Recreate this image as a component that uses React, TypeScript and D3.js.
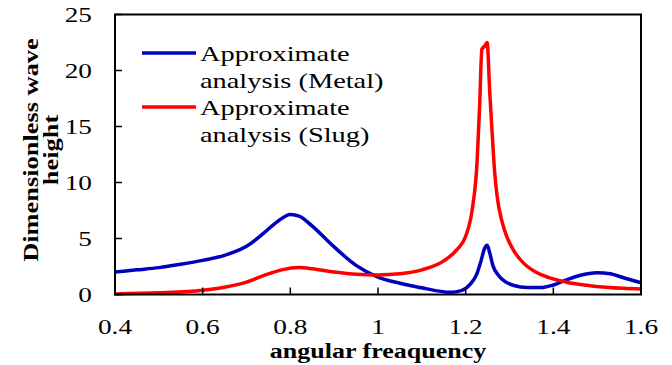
import * as d3 from "d3";

// angular frequency vs dimensionless wave height
const metalFreq = [0.4, 0.45, 0.5, 0.55, 0.6, 0.65, 0.7, 0.74, 0.77, 0.8, 0.82, 0.85, 0.88, 0.9, 0.95, 1.0, 1.05, 1.1, 1.14, 1.165, 1.19, 1.21, 1.225, 1.235, 1.243, 1.249, 1.255, 1.262, 1.275, 1.29, 1.31, 1.34, 1.37, 1.4, 1.43, 1.46, 1.5, 1.53, 1.56, 1.6];
const metalHeight = [2.0, 2.2, 2.4, 2.7, 3.05, 3.5, 4.3, 5.5, 6.5, 7.15, 7.0, 6.1, 5.0, 4.25, 2.6, 1.55, 1.0, 0.6, 0.3, 0.2, 0.35, 0.9, 1.8, 3.0, 4.1, 4.4, 3.7, 2.6, 1.7, 1.15, 0.8, 0.62, 0.62, 0.85, 1.3, 1.7, 1.95, 1.85, 1.5, 1.05];

const slugFreq = [0.4, 0.5, 0.6, 0.65, 0.7, 0.74, 0.78, 0.82, 0.85, 0.9, 0.95, 1.0, 1.05, 1.1, 1.15, 1.18, 1.2, 1.215, 1.226, 1.232, 1.237, 1.244, 1.249, 1.255, 1.26, 1.266, 1.272, 1.283, 1.294, 1.31, 1.332, 1.36, 1.39, 1.43, 1.47, 1.52, 1.56, 1.6];
const slugHeight = [0.05, 0.15, 0.38, 0.65, 1.1, 1.7, 2.2, 2.4, 2.3, 2.0, 1.8, 1.75, 1.85, 2.2, 3.0, 4.0, 5.2, 7.6, 11.8, 17, 21.9, 22.2, 22.5, 18, 14.7, 11, 8.7, 6.5, 5.15, 3.9, 2.8, 2.0, 1.5, 1.1, 0.85, 0.65, 0.55, 0.5];

const xTicks = [0.4, 0.6, 0.8, 1, 1.2, 1.4, 1.6];
const yTicks = [0, 5, 10, 15, 20, 25];

const series = [
  { name: ["Approximate", "analysis (Metal)"], color: "#0000bf", freq: metalFreq, values: metalHeight },
  { name: ["Approximate", "analysis (Slug)"], color: "#ff0000", freq: slugFreq, values: slugHeight },
];

const font = "'Liberation Serif', 'Times New Roman', serif";

// the original font is a wide schoolbook face, so stretch Liberation Serif sideways
const Txt = ({ x, y, size, anchor = "start", bold = false, rotate = 0, stretch = 1.3, children }: any) => (
  <text
    transform={`translate(${x},${y}) rotate(${rotate}) scale(${stretch},1)`}
    textAnchor={anchor}
    fontFamily={font}
    fontSize={size}
    fontWeight={bold ? "bold" : "normal"}
  >{children}</text>
);

const App = () => {
  const width = 672;
  const height = 365;
  const margin = { top: 14.5, right: 31, bottom: 70.5, left: 115 };

  const x = d3.scaleLinear().domain([0.4, 1.6]).range([margin.left, width - margin.right]);
  const y = d3.scaleLinear().domain([0, 25]).range([height - margin.bottom, margin.top]);

  const line = d3.line<[number, number]>()
    .x(d => x(d[0]))
    .y(d => y(d[1]))
    .curve(d3.curveMonotoneX);

  return (
    <svg width={width} height={height} style={{ position: "absolute", left: 0, top: 0, background: "#fff" }}>
      {/* lines */}
      {series.map(s => (
        <path key={s.color}
          d={line(s.freq.map((f, i) => [f, s.values[i]] as [number, number])) || ""}
          fill="none" stroke={s.color} strokeWidth={3.5} strokeLinejoin="round" />
      ))}

      {/* frame */}
      <rect x={x(0.4)} y={y(25)} width={x(1.6) - x(0.4)} height={y(0) - y(25)}
        fill="none" stroke="#000" strokeWidth={2} />

      {/* y ticks */}
      {yTicks.map(t => (
        <g key={"y" + t}>
          <line x1={x(0.4)} x2={x(0.4) + 7} y1={y(t)} y2={y(t)} stroke="#000" strokeWidth={1.5} />
          <Txt x={x(0.4) - 23} y={y(t) + 7} size={21} anchor="end">{t}</Txt>
        </g>
      ))}

      {/* x ticks */}
      {xTicks.map(t => (
        <g key={"x" + t}>
          <line x1={x(t)} x2={x(t)} y1={y(0)} y2={y(0) - 7} stroke="#000" strokeWidth={1.5} />
          <Txt x={x(t)} y={y(0) + 39} size={21} anchor="middle">{t}</Txt>
        </g>
      ))}

      {/* axis titles */}
      <Txt x={378} y={358} size={20} anchor="middle" bold>angular freaquency</Txt>
      <text transform="translate(38,150) rotate(-90) scale(1.32,1)" textAnchor="middle" fontFamily={font} fontWeight="bold" fontSize={20}>Dimensionless wave</text>
      <text transform="translate(58,150) rotate(-90) scale(1.32,1)" textAnchor="middle" fontFamily={font} fontWeight="bold" fontSize={20}>height</text>

      {/* legend */}
      {series.map((s, i) => (
        <g key={"leg" + i} transform={`translate(0, ${i * 54})`}>
          <line x1={142} x2={196} y1={53} y2={53} stroke={s.color} strokeWidth={3.5} />
          <Txt x={200} y={61} size={22} stretch={1.29}>{s.name[0]}</Txt>
          <Txt x={200} y={88} size={22} stretch={1.29}>{s.name[1]}</Txt>
        </g>
      ))}
    </svg>
  );
};

export default App;
